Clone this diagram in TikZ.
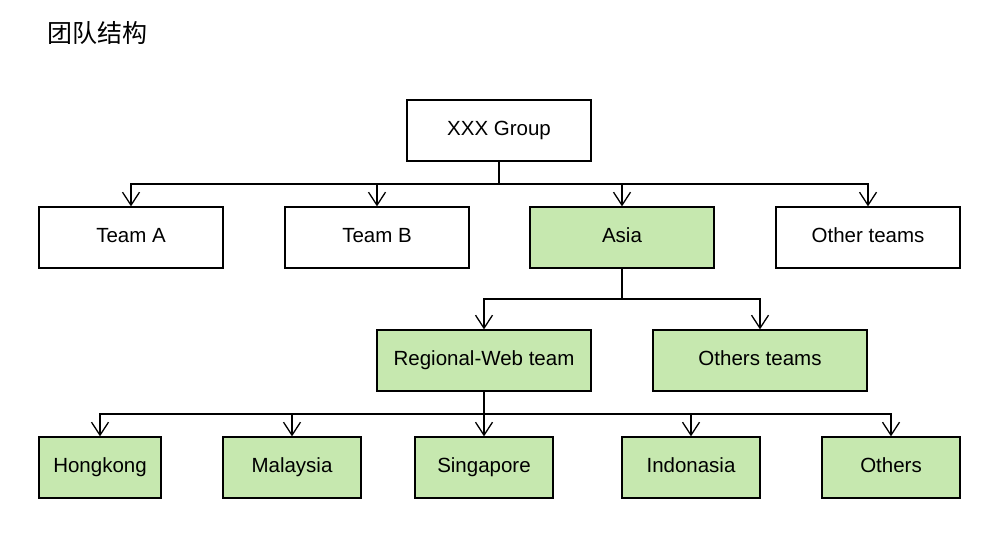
\documentclass[tikz,border=0pt]{standalone}
\usepackage{fontspec}
\setmainfont{Liberation Sans}
\newfontfamily\cjk{Noto Sans CJK SC}
\usetikzlibrary{arrows.meta}
\definecolor{boxgreen}{RGB}{198,232,175}
\tikzset{
  box/.style={draw=black, line width=1.3pt, minimum height=61pt, inner sep=0pt, font=\fontsize{20.5}{23}\selectfont, text=black, text height=15pt, text depth=5pt},
  wbox/.style={box, fill=white},
  gbox/.style={box, fill=boxgreen},
  conn/.style={draw=black, line width=1.3pt},
  arr/.style={conn, -{Straight Barb[length=13pt, width=17pt, line width=1.3pt]}},
}
\begin{document}
\begin{tikzpicture}[x=1pt, y=-1pt]
\useasboundingbox (0,0) rectangle (998,536);
\node[font=\cjk\fontsize{25}{28}\selectfont, anchor=west, inner sep=0pt] (title) at (47,33) {团队结构};
% level 0
\node[wbox, minimum width=184pt] (g) at (499,130.5) {XXX Group};
% level 1
\node[wbox, minimum width=184pt] (ta) at (131,237.5) {Team A};
\node[wbox, minimum width=184pt] (tb) at (377,237.5) {Team B};
\node[gbox, minimum width=184pt] (asia) at (622,237.5) {Asia};
\node[wbox, minimum width=184pt] (ot) at (868,237.5) {Other teams};
% level 2
\node[gbox, minimum width=214pt] (rw) at (484,360.5) {Regional-Web team};
\node[gbox, minimum width=214pt] (ots) at (760,360.5) {Others teams};
% level 3
\node[gbox, minimum width=122pt] (hk) at (100,467.5) {Hongkong};
\node[gbox, minimum width=138pt] (my) at (292,467.5) {Malaysia};
\node[gbox, minimum width=138pt] (sg) at (484,467.5) {Singapore};
\node[gbox, minimum width=138pt] (id) at (691,467.5) {Indonasia};
\node[gbox, minimum width=138pt] (oth) at (891,467.5) {Others};
% buses
\coordinate (b1) at (499,184);
\coordinate (b2) at (622,299);
\coordinate (b3) at (484,414);
\draw[conn] (g.south) -- (b1);
\foreach \c in {ta,tb,asia,ot} \draw[arr] (b1) -| (\c.north);
\draw[conn] (asia.south) -- (b2);
\foreach \c in {rw,ots} \draw[arr] (b2) -| (\c.north);
\draw[conn] (rw.south) -- (b3);
\foreach \c in {hk,my,sg,id,oth} \draw[arr] (b3) -| (\c.north);
\end{tikzpicture}
\end{document}
